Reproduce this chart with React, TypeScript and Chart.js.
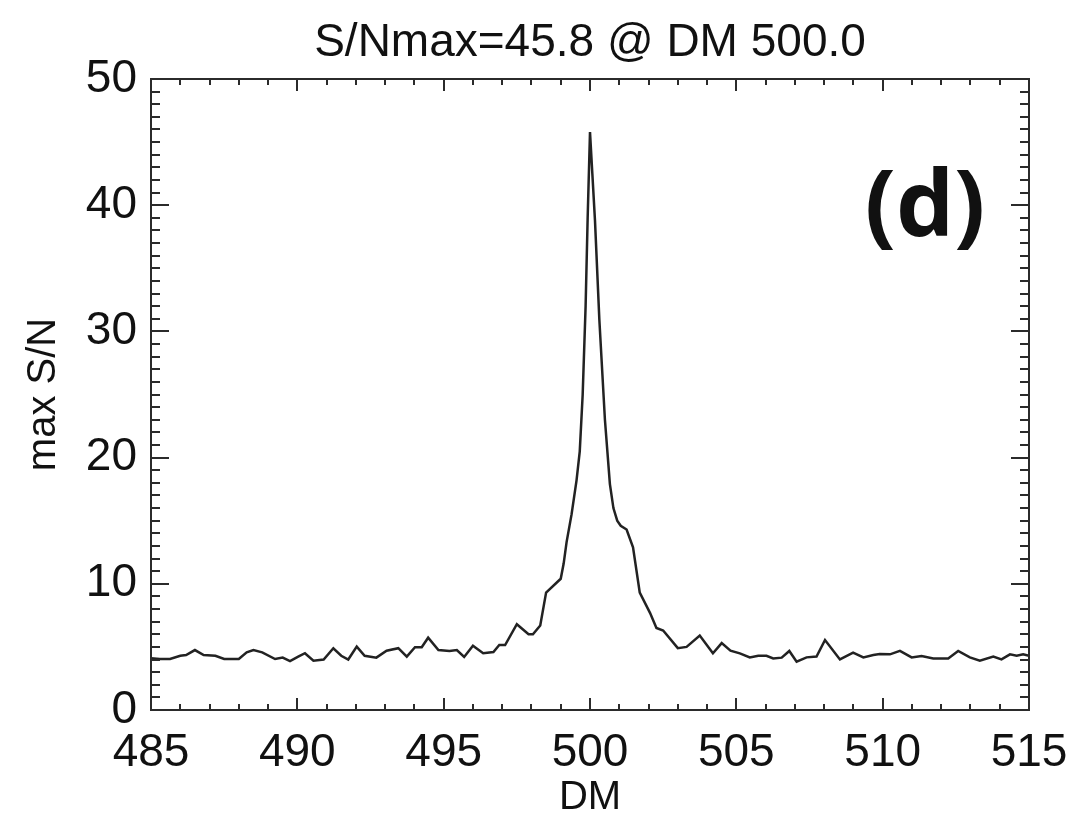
import React, { useEffect, useRef } from 'react';
import { Chart, registerables } from 'chart.js';

Chart.register(...registerables);

const chartTitle = 'S/Nmax=45.8 @ DM 500.0';
const xAxisTitle = 'DM';
const yAxisTitle = 'max S/N';
const panelLabel = '(d)';

const xRange = [485, 515];
const yRange = [0, 50];

const dmValues = [
  485.0, 485.3, 485.65, 486.0, 486.2, 486.5, 486.8, 487.2, 487.5, 488.0,
  488.27, 488.5, 488.8, 489.24, 489.5, 489.75, 490.03, 490.26, 490.55, 490.9,
  491.23, 491.5, 491.74, 492.03, 492.3, 492.7, 493.05, 493.45, 493.74, 494.02,
  494.25, 494.47, 494.82, 495.2, 495.45, 495.7, 496.0, 496.35, 496.7, 496.9,
  497.1, 497.5, 497.9, 498.05, 498.3, 498.5, 499.0, 499.1, 499.2, 499.37,
  499.54, 499.65, 499.75, 499.85, 499.92, 500.0, 500.08, 500.17, 500.32, 500.51,
  500.68, 500.8, 500.93, 501.05, 501.25, 501.47, 501.7, 502.05, 502.27, 502.5,
  503.0, 503.3, 503.75, 504.2, 504.5, 504.8, 505.12, 505.46, 505.75, 506.03,
  506.26, 506.55, 506.81, 507.06, 507.4, 507.74, 508.03, 508.54, 508.99, 509.34,
  509.68, 509.9, 510.25, 510.59, 510.99, 511.33, 511.73, 512.24, 512.58, 512.98,
  513.32, 513.78, 514.06, 514.35, 514.58, 514.8, 515.0,
];

const maxSNValues = [
  4.1, 4.05, 4.04, 4.3, 4.35, 4.75, 4.35, 4.3, 4.04, 4.04,
  4.57, 4.75, 4.57, 4.04, 4.15, 3.88, 4.23, 4.5, 3.9, 4.0,
  4.89, 4.3, 4.0, 5.02, 4.3, 4.15, 4.7, 4.9, 4.23, 4.97,
  4.97, 5.73, 4.75, 4.68, 4.75, 4.2, 5.1, 4.5, 4.6, 5.15,
  5.15, 6.8, 6.0, 6.0, 6.7, 9.3, 10.4, 11.6, 13.3, 15.5,
  18.2, 20.5, 25.0, 32.0, 39.0, 45.8, 42.5, 38.8, 30.9, 23.0,
  17.9, 16.0, 15.0, 14.6, 14.3, 12.9, 9.3, 7.7, 6.5, 6.3,
  4.9, 5.0, 5.9, 4.5, 5.3, 4.7, 4.49, 4.17, 4.3, 4.3,
  4.09, 4.15, 4.68, 3.83, 4.17, 4.23, 5.55, 4.01, 4.54, 4.17,
  4.36, 4.44, 4.41, 4.68, 4.17, 4.28, 4.09, 4.09, 4.68, 4.17,
  3.91, 4.23, 4.01, 4.41, 4.3, 4.41, 4.3,
];

const xMajorStep = 5;
const xMinorStep = 1;
const yMajorStep = 10;
const yMinorStep = 1;

const sansFamily = '"Liberation Sans", Arial, Helvetica, sans-serif';

const framePlugin = {
  id: 'idlFrame',
  afterDatasetsDraw(chart: any) {
    const { ctx, chartArea, scales } = chart;
    const { left, right, top, bottom } = chartArea;
    const xs = scales.x;
    const ys = scales.y;
    ctx.save();
    ctx.strokeStyle = '#2b2b2b';
    ctx.lineWidth = 2;
    ctx.strokeRect(left, top, right - left, bottom - top);
    ctx.beginPath();
    for (let v = xs.min; v <= xs.max + 1e-6; v += xMinorStep) {
      const px = Math.round(xs.getPixelForValue(v));
      const major = Math.abs((v - xs.min) % xMajorStep) < 1e-6;
      const len = major ? 12 : 6;
      ctx.moveTo(px, bottom);
      ctx.lineTo(px, bottom - len);
      ctx.moveTo(px, top);
      ctx.lineTo(px, top + len);
    }
    for (let v = ys.min; v <= ys.max + 1e-6; v += yMinorStep) {
      const py = Math.round(ys.getPixelForValue(v));
      const major = Math.abs((v - ys.min) % yMajorStep) < 1e-6;
      const len = major ? 18 : 9;
      ctx.moveTo(left, py);
      ctx.lineTo(left + len, py);
      ctx.moveTo(right, py);
      ctx.lineTo(right - len, py);
    }
    ctx.stroke();

    // chart title, centred over the plot area
    ctx.fillStyle = '#111';
    ctx.font = `46px ${sansFamily}`;
    ctx.textAlign = 'center';
    ctx.textBaseline = 'alphabetic';
    ctx.fillText(chartTitle, (left + right) / 2, 56);

    // panel label
    ctx.font = 'bold 92px "Open Sans", "DejaVu Sans", sans-serif';
    ctx.fillText(panelLabel, 925, 236);
    ctx.restore();
  },
};

export default function App() {
  const canvasRef = useRef<HTMLCanvasElement | null>(null);

  useEffect(() => {
    const canvas = canvasRef.current;
    if (!canvas) return;
    const points = dmValues.map((d, i) => ({ x: d, y: maxSNValues[i] }));
    const tickFont = { family: sansFamily, size: 46 };
    const chart = new Chart(canvas, {
      type: 'line',
      data: {
        datasets: [
          {
            data: points,
            borderColor: '#222222',
            borderWidth: 2.5,
            pointRadius: 0,
            tension: 0,
            fill: false,
          },
        ],
      },
      options: {
        animation: false,
        responsive: true,
        maintainAspectRatio: false,
        layout: { padding: { left: 0, right: 47, top: 79, bottom: 0 } },
        plugins: {
          legend: { display: false },
          tooltip: { enabled: false },
          title: { display: false },
        },
        scales: {
          x: {
            type: 'linear',
            min: xRange[0],
            max: xRange[1],
            grid: { display: false, drawTicks: false },
            border: { display: false },
            ticks: {
              stepSize: xMajorStep,
              color: '#111',
              font: tickFont,
              padding: 16,
              maxRotation: 0,
              autoSkip: false,
            },
            title: {
              display: true,
              text: xAxisTitle,
              color: '#111',
              font: { family: sansFamily, size: 40, lineHeight: 1 },
              padding: { top: 0, bottom: 0 },
            },
            afterFit: (scale: any) => {
              scale.height = 108;
              scale.paddingLeft = 0;
              scale.paddingRight = 0;
            },
          },
          y: {
            type: 'linear',
            min: yRange[0],
            max: yRange[1],
            grid: { display: false, drawTicks: false },
            border: { display: false },
            ticks: {
              stepSize: yMajorStep,
              color: '#111',
              font: tickFont,
              padding: 14,
            },
            title: {
              display: true,
              text: yAxisTitle,
              color: '#111',
              font: { family: sansFamily, size: 40, lineHeight: 1 },
              padding: { top: 24, bottom: 0 },
            },
            afterFit: (scale: any) => {
              scale.width = 151;
            },
          },
        },
      },
      plugins: [framePlugin],
    });
    return () => chart.destroy();
  }, []);

  return (
    <div style={{ position: 'fixed', left: 0, top: 0, width: 1076, height: 818, background: '#fff' }}>
      <canvas ref={canvasRef} />
    </div>
  );
}
